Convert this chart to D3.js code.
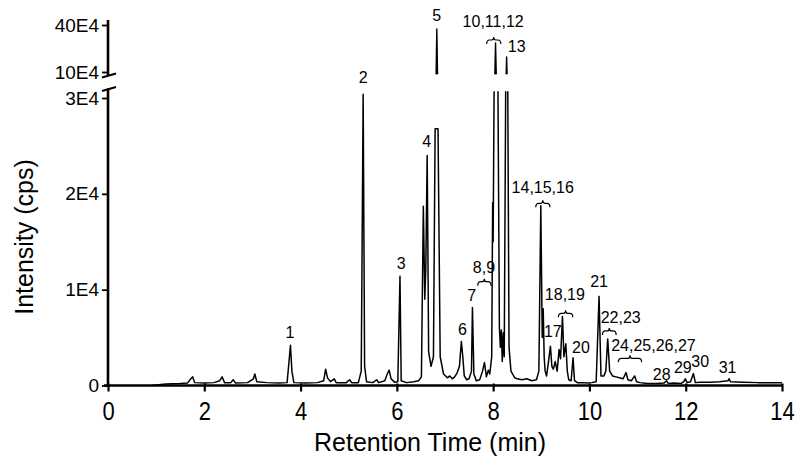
<!DOCTYPE html>
<html>
<head>
<meta charset="utf-8">
<script src="https://cdn.jsdelivr.net/npm/d3@7"></script>
<style>
  html, body { margin: 0; padding: 0; background: #fff; }
  svg { display: block; }
  text { font-family: "Liberation Sans", Arial, Helvetica, sans-serif; fill: #000; }
</style>
</head>
<body>
<svg id="chart" width="800" height="473"></svg>
<script>
// ---------------- DATA ----------------
// Lower panel trace: retention time (min) and intensity (cps)
const traceTimes = [
  0.90, 1.20, 1.50, 1.65, 1.72, 1.76, 1.80, 2.00, 2.20, 2.32, 2.37, 2.42, 2.55, 2.60, 2.65,
  2.90, 3.02, 3.05, 3.09, 3.30, 3.55, 3.72, 3.76, 3.79, 3.82, 3.86, 4.10, 4.35, 4.48, 4.52,
  4.56, 4.62, 4.70, 4.74, 4.95, 5.02, 5.06, 5.20, 5.26, 5.30, 5.33, 5.37, 5.50, 5.58, 5.62,
  5.75, 5.80, 5.84, 5.88, 5.95, 6.02, 6.065, 6.09, 6.20, 6.35, 6.45, 6.51, 6.55, 6.58, 6.60,
  6.63, 6.66, 6.71, 6.76, 6.795, 6.855, 6.90, 6.97, 7.05, 7.10, 7.15, 7.20, 7.25, 7.30, 7.34,
  7.37, 7.40, 7.45, 7.50, 7.55, 7.57, 7.60, 7.65, 7.72, 7.78, 7.82, 7.86, 7.90, 7.93, 7.97,
  7.99, 8.00, 8.025, 8.095, 8.13, 8.15, 8.17, 8.19, 8.21, 8.23, 8.265, 8.30, 8.33, 8.37, 8.45,
  8.50, 8.60, 8.70, 8.80, 8.90, 8.95, 8.99, 9.02, 9.04, 9.06, 9.08, 9.11, 9.15, 9.19, 9.22,
  9.25, 9.29, 9.33, 9.37, 9.40, 9.44, 9.47, 9.51, 9.54, 9.57, 9.62, 9.66, 9.69, 9.75, 9.85,
  9.95, 10.05, 10.14, 10.20, 10.24, 10.30, 10.34, 10.38, 10.42, 10.48, 10.55, 10.62, 10.70, 10.76, 10.80,
  10.87, 10.94, 10.98, 11.05, 11.20, 11.40, 11.55, 11.60, 11.64, 11.75, 11.90, 11.96, 11.99, 12.03, 12.10,
  12.16, 12.20, 12.30, 12.50, 12.70, 12.88, 12.90, 12.93, 13.20, 13.50, 13.80, 14.00
];
const traceIntensity = [
  0, 150, 200, 250, 700, 900, 300, 250, 300, 500, 900, 300, 300, 600, 250,
  300, 700, 1200, 400, 300, 250, 300, 2500, 4200, 1500, 300, 250, 300, 500, 1700,
  800, 400, 700, 300, 300, 600, 300, 300, 1500, 30400, 2000, 400, 300, 600, 300,
  500, 1200, 1600, 700, 350, 400, 11400, 500, 300, 400, 500, 900, 18700, 9000, 12000,
  24000, 3500, 2000, 3000, 26800, 26800, 3000, 1200, 800, 1000, 700, 900, 1300, 2000, 4600,
  3000, 1000, 600, 700, 1500, 8150, 1200, 500, 600, 1500, 2400, 900, 1600, 1200, 3000,
  19100, 15000, 35000, 35000, 6000, 4000, 5800, 2500, 5500, 3000, 35000, 35000, 4000, 1500, 800,
  700, 600, 700, 500, 600, 1500, 18750, 5000, 8000, 3000, 1500, 1000, 2500, 4100, 2000,
  1700, 2500, 1500, 3750, 2800, 7200, 3000, 4350, 1500, 600, 500, 2900, 500, 300, 300,
  250, 300, 400, 9300, 1000, 1000, 1500, 4850, 1500, 1000, 900, 800, 700, 1350, 600,
  500, 1000, 400, 300, 200, 200, 250, 500, 200, 250, 200, 400, 700, 300, 400,
  1250, 300, 350, 350, 400, 500, 700, 400, 350, 300, 300, 300
];

// Upper panel (broken axis) peak tops: one entry per peak
const upperTimes = [[6.815, 6.83, 6.845], [8.035, 8.05, 8.065], [8.27, 8.28, 8.29]];
const upperIntensity = [[80000, 374000, 80000], [80000, 285000, 80000], [80000, 196000, 80000]];

// Axis ticks
const xTicks = [0, 2, 4, 6, 8, 10, 12, 14];
const yLowTicks = [0, 10000, 20000, 30000];
const yLowTickLabels = ["0", "1E4", "2E4", "3E4"];
const yUpTicks = [100000, 400000];
const yUpTickLabels = ["10E4", "40E4"];

// Peak labels (text, time, intensity) and brackets (t1, t2, intensity)
const lowLabels = ["1", "2", "3", "4", "6", "7", "8,9", "14,15,16", "17", "18,19", "20", "21", "22,23", "24,25,26,27", "28", "29", "30", "31"];
const lowLabelTimes = [3.78, 5.30, 6.09, 6.62, 7.36, 7.555, 7.81, 9.03, 9.24, 9.49, 9.825, 10.2, 10.65, 11.33, 11.5, 11.94, 12.30, 12.87];
const lowLabelIntensity = [5000, 31600, 12200, 24840, 5270, 8820, 11740, 20090, 5010, 8920, 3440, 10280, 6570, 3600, 570, 1300, 1930, 1300];
const upLabels = ["5", "10,11,12", "13"];
const upLabelTimes = [6.83, 8.0, 8.49];
const upLabelIntensity = [425500, 390400, 224500];
const lowBrackets = [[7.68, 7.955, 10830], [8.885, 9.18, 19010], [9.355, 9.655, 7530], [10.27, 10.555, 5690], [10.6, 11.085, 2840]];
const upBrackets = [[7.865, 8.16, 304300]];

// ---------------- CHART ----------------
const svg = d3.select("#chart");
const x = d3.scaleLinear().domain([0, 14]).range([108, 782]);
const yLow = d3.scaleLinear().domain([0, 30000]).range([385.5, 98]);
const yUp = d3.scaleLinear().domain([100000, 400000]).range([72, 25]);

const defs = svg.append("defs");
defs.append("clipPath").attr("id", "clipLow").append("rect")
  .attr("x", x(0)).attr("y", yLow(30700)).attr("width", x(14) - x(0)).attr("height", yLow(0) - yLow(30700));
defs.append("clipPath").attr("id", "clipUp").append("rect")
  .attr("x", x(0)).attr("y", 0).attr("width", x(14) - x(0)).attr("height", yUp(85000));

// lower trace
const lowData = traceTimes.map((t, i) => [t, traceIntensity[i]]);
svg.append("path")
  .attr("clip-path", "url(#clipLow)")
  .attr("d", d3.line().x(d => x(d[0])).y(d => yLow(d[1]))(lowData))
  .attr("fill", "none").attr("stroke", "#000").attr("stroke-width", 1.5).attr("stroke-linejoin", "round");

// upper traces
const upG = svg.append("g").attr("clip-path", "url(#clipUp)");
upperTimes.forEach((ts, k) => {
  const pts = ts.map((t, i) => [t, upperIntensity[k][i]]);
  upG.append("path")
    .attr("d", d3.line().x(d => x(d[0])).y(d => yUp(d[1]))(pts))
    .attr("fill", "#000").attr("stroke", "#000").attr("stroke-width", 1.4).attr("stroke-linejoin", "round");
});

// axes
const axisW = 2.6;
// x axis
const xAxis = d3.axisBottom(x).tickValues(xTicks).tickFormat(d3.format("d")).tickSize(6).tickSizeOuter(0).tickPadding(7);
const gx = svg.append("g").attr("transform", `translate(0,${yLow(0)})`).call(xAxis);
gx.select(".domain").attr("stroke-width", axisW).attr("d", `M${x(0) - 4},0H${x(14) + 1}`);
gx.selectAll(".tick line").attr("stroke-width", 2.2).attr("y1", -2);
gx.selectAll(".tick text").attr("font-size", 22).attr("transform", "scale(1,1.2)").attr("dy", "0.72em");

// y lower axis
const yAxisLow = d3.axisLeft(yLow).tickValues(yLowTicks).tickFormat((d, i) => yLowTickLabels[i]).tickSize(6).tickSizeOuter(0).tickPadding(3);
const gyl = svg.append("g").attr("transform", `translate(${x(0)},0)`).call(yAxisLow);
gyl.select(".domain").attr("stroke-width", axisW).attr("d", `M0,${yLow(0) + 1}V${yLow(31000)}`);
gyl.selectAll(".tick line").attr("stroke-width", 1.8);
gyl.selectAll(".tick text").attr("font-size", 19);

// y upper axis
const yAxisUp = d3.axisLeft(yUp).tickValues(yUpTicks).tickFormat((d, i) => yUpTickLabels[i]).tickSize(6).tickSizeOuter(0).tickPadding(3);
const gyu = svg.append("g").attr("transform", `translate(${x(0)},0)`).call(yAxisUp);
gyu.select(".domain").attr("stroke-width", axisW).attr("d", `M0,${yUp(432000)}V${yUp(81000)}`);
gyu.selectAll(".tick line").attr("stroke-width", 1.8);
gyu.selectAll(".tick text").attr("font-size", 19);

// break marks
[yUp(81000), yLow(31000)].forEach(yy => {
  svg.append("line").attr("x1", x(0) - 6).attr("y1", yy + 2.5).attr("x2", x(0) + 8).attr("y2", yy - 1.5)
    .attr("stroke", "#000").attr("stroke-width", 2);
});

svg.selectAll(".domain").attr("stroke", "#000");
svg.selectAll(".tick line").attr("stroke", "#000");
svg.selectAll(".tick text").attr("fill", "#000").style("font-family", '"Liberation Sans", Arial, sans-serif');

// axis titles
svg.append("text")
  .attr("x", (x(0) + x(14)) / 2 - 15).attr("y", 451)
  .attr("text-anchor", "middle").attr("font-size", 25)
  .text("Retention Time (min)");
svg.append("text")
  .attr("transform", `translate(33,${237}) rotate(-90)`)
  .attr("text-anchor", "middle").attr("font-size", 25)
  .text("Intensity (cps)");

// peak labels
const lg = svg.append("g").attr("font-size", 16).attr("text-anchor", "middle");
lowLabels.forEach((s, i) => {
  lg.append("text").attr("x", x(lowLabelTimes[i])).attr("y", yLow(lowLabelIntensity[i])).text(s);
});
upLabels.forEach((s, i) => {
  lg.append("text").attr("x", x(upLabelTimes[i])).attr("y", yUp(upLabelIntensity[i])).text(s);
});

// brackets (overbrace shape)
function brace(x1, x2, yy) {
  const xm = (x1 + x2) / 2;
  return `M${x1},${yy + 4} Q${x1},${yy} ${x1 + 3},${yy} L${xm - 2},${yy} Q${xm},${yy} ${xm},${yy - 3}` +
         ` Q${xm},${yy} ${xm + 2},${yy} L${x2 - 3},${yy} Q${x2},${yy} ${x2},${yy + 4}`;
}
lowBrackets.forEach(b => {
  svg.append("path").attr("d", brace(x(b[0]), x(b[1]), yLow(b[2])))
    .attr("fill", "none").attr("stroke", "#000").attr("stroke-width", 1.2);
});
upBrackets.forEach(b => {
  svg.append("path").attr("d", brace(x(b[0]), x(b[1]), yUp(b[2])))
    .attr("fill", "none").attr("stroke", "#000").attr("stroke-width", 1.2);
});
</script>
</body>
</html>
